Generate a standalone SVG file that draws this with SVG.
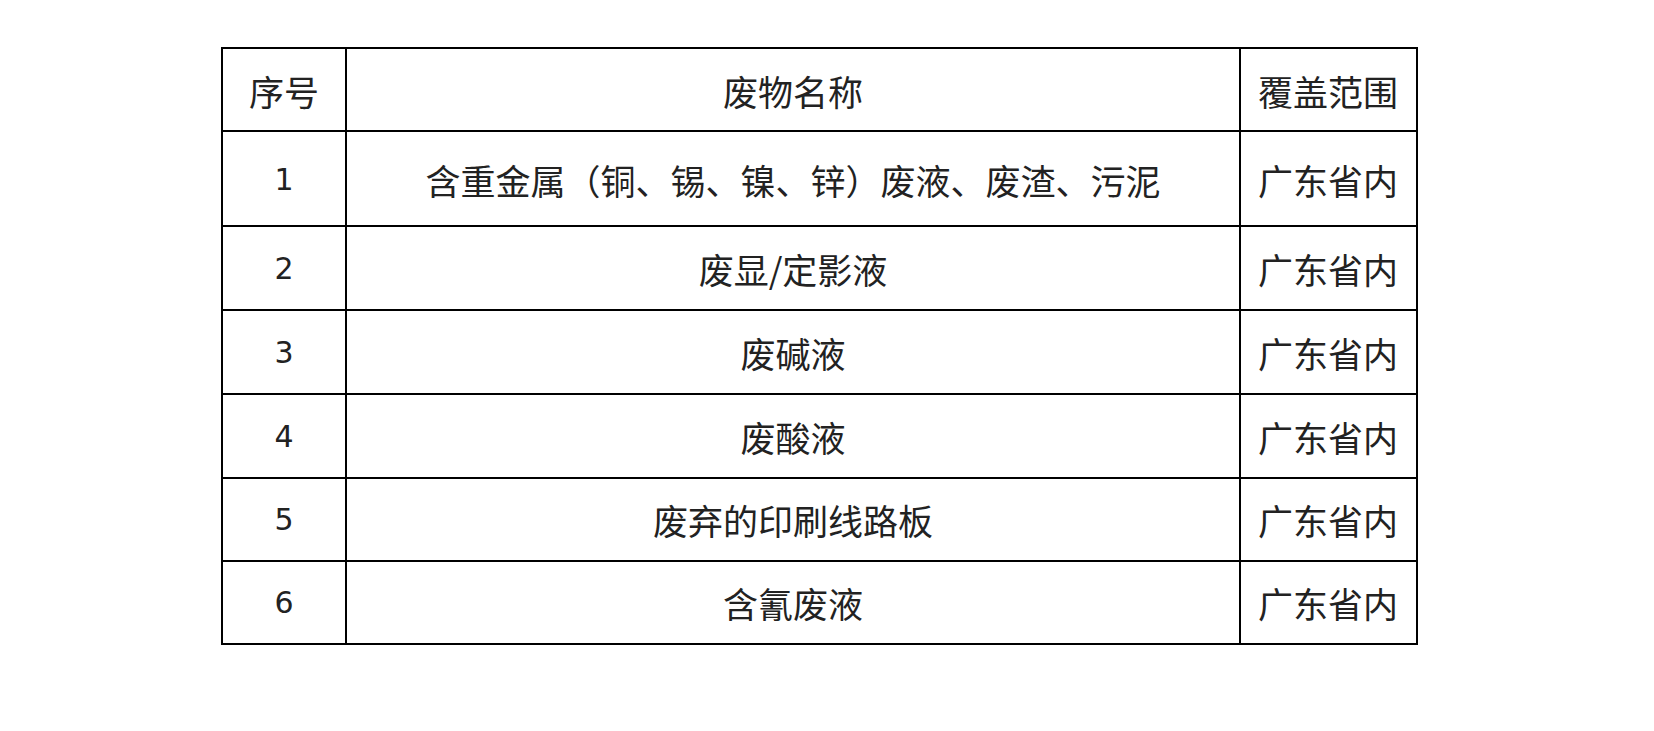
<svg xmlns="http://www.w3.org/2000/svg" width="1654" height="731" viewBox="0 0 1654 731">
<style>
.l{stroke:#000;stroke-width:2;fill:none}
.t{font-family:"Noto Sans CJK SC",sans-serif;font-size:35px;fill:#222;text-anchor:middle;dominant-baseline:central}
.n{font-family:"DejaVu Sans",sans-serif;font-size:30px;fill:#222;text-anchor:middle;dominant-baseline:central}
</style>
<rect width="1654" height="731" fill="#fff"/>
<g id="grid">
<rect class="l" x="222" y="48" width="1195" height="596"/>
<line class="l" x1="346" y1="48" x2="346" y2="644"/>
<line class="l" x1="1240" y1="48" x2="1240" y2="644"/>
<line class="l" x1="222" y1="131" x2="1417" y2="131"/>
<line class="l" x1="222" y1="226" x2="1417" y2="226"/>
<line class="l" x1="222" y1="310" x2="1417" y2="310"/>
<line class="l" x1="222" y1="394" x2="1417" y2="394"/>
<line class="l" x1="222" y1="478" x2="1417" y2="478"/>
<line class="l" x1="222" y1="561" x2="1417" y2="561"/>
</g>
<g id="header">
<text class="t" x="284" y="90">序号</text>
<text class="t" x="793" y="90">废物名称</text>
<text class="t" x="1328" y="90">覆盖范围</text>
</g>
<g id="row1"><text class="n" x="284" y="179">1</text><text class="t" x="793" y="179">含重金属（铜、锡、镍、锌）废液、废渣、污泥</text><text class="t" x="1328" y="179">广东省内</text></g>
<g id="row2"><text class="n" x="284" y="268">2</text><text class="t" x="793" y="268">废显/定影液</text><text class="t" x="1328" y="268">广东省内</text></g>
<g id="row3"><text class="n" x="284" y="352">3</text><text class="t" x="793" y="352">废碱液</text><text class="t" x="1328" y="352">广东省内</text></g>
<g id="row4"><text class="n" x="284" y="436">4</text><text class="t" x="793" y="436">废酸液</text><text class="t" x="1328" y="436">广东省内</text></g>
<g id="row5"><text class="n" x="284" y="519">5</text><text class="t" x="793" y="519">废弃的印刷线路板</text><text class="t" x="1328" y="519">广东省内</text></g>
<g id="row6"><text class="n" x="284" y="602">6</text><text class="t" x="793" y="602">含氰废液</text><text class="t" x="1328" y="602">广东省内</text></g>
</svg>
